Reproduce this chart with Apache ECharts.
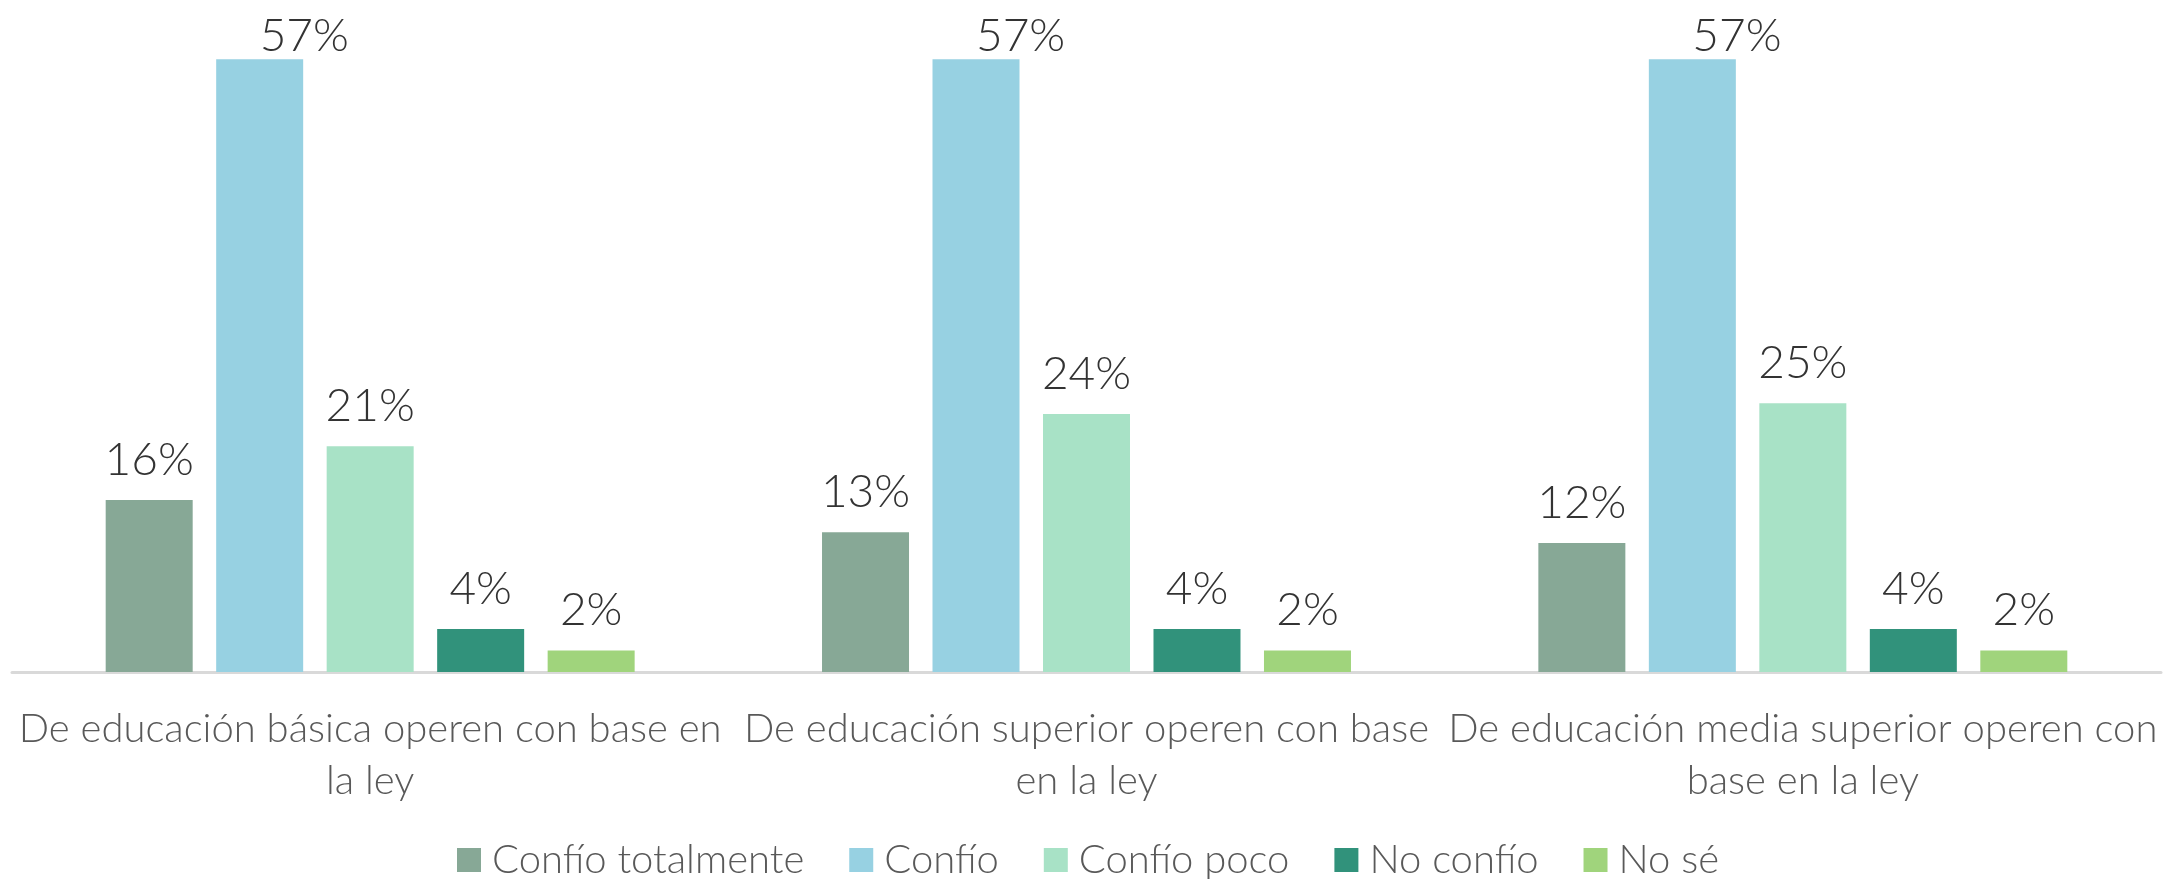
<!DOCTYPE html>
<html>
<head>
<meta charset="utf-8">
<script src="https://cdn.jsdelivr.net/npm/echarts@6/dist/echarts.min.js"></script>
<style>
html,body{margin:0;padding:0;background:#fff;}
#c{width:2163px;height:879px;}
</style>
</head>
<body>
<div id="c"></div>
<script>
const categories = [
  'De educación básica operen con base en la ley',
  'De educación superior operen con base en la ley',
  'De educación media superior operen con base en la ley'
];
const seriesNames = ['Confío totalmente', 'Confío', 'Confío poco', 'No confío', 'No sé'];
const confioTotalmente = [16, 13, 12];
const confio = [57, 57, 57];
const confioPoco = [21, 24, 25];
const noConfio = [4, 4, 4];
const noSe = [2, 2, 2];
const colors = ['#87A896', '#97D1E2', '#A8E2C6', '#31927B', '#A0D47C'];

const FONT = 'Lato';
const allData = [confioTotalmente, confio, confioPoco, noConfio, noSe];

// greedy word wrap by character count
function wrapText(text, maxChars) {
  const words = text.split(' ');
  const lines = [];
  let cur = '';
  words.forEach(w => {
    const next = cur ? cur + ' ' + w : w;
    if (next.length > maxChars && cur) {
      lines.push(cur);
      cur = w;
    } else {
      cur = next;
    }
  });
  if (cur) lines.push(cur);
  return lines.join('\n');
}

const chart = echarts.init(document.getElementById('c'), null, {renderer: 'canvas'});
chart.setOption({
  animation: false,
  color: colors,
  textStyle: {fontFamily: FONT},
  grid: {left: 12, right: 2, top: 27, bottom: 207, containLabel: false, outerBoundsMode: 'none'},
  legend: {
    data: seriesNames,
    top: 835,
    left: 452,
    itemWidth: 24,
    itemHeight: 24,
    itemGap: 45,
    icon: 'rect',
    textStyle: {fontFamily: FONT, fontSize: 40, color: '#595959', fontWeight: 300, padding: [0, 0, 0, 6]}
  },
  xAxis: {
    type: 'category',
    data: categories,
    axisLine: {show: true, lineStyle: {color: '#D9D9D9', width: 3}},
    axisTick: {show: false},
    axisLabel: {
      interval: 0,
      margin: 31,
      fontFamily: FONT,
      fontSize: 40,
      fontWeight: 300,
      lineHeight: 52,
      color: '#595959',
      align: 'center',
      formatter: v => wrapText(v, 38)
    }
  },
  yAxis: {
    type: 'value',
    min: 0,
    max: 60,
    show: false,
    splitLine: {show: false}
  },
  series: allData.map((d, i) => ({
    name: seriesNames[i],
    type: 'bar',
    data: d,
    barWidth: 87,
    barGap: '27%',
    itemStyle: {color: colors[i]},
    label: {
      show: true,
      position: 'top',
      distance: 17,
      formatter: '{c}%',
      fontFamily: FONT,
      fontSize: 46,
      fontWeight: 300,
      color: '#333333'
    },
    labelLayout: function (p) {
      const r = p.labelRect;
      if (r.y < 6) {
        return {y: r.height / 2 + 13, verticalAlign: 'middle'};
      }
      return {};
    }
  }))
});
</script>
</body>
</html>
